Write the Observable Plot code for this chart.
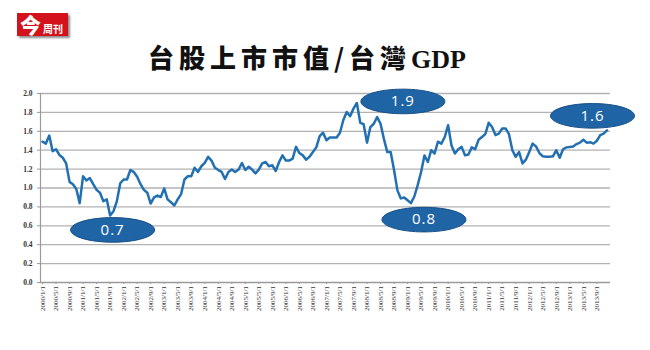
<!DOCTYPE html>
<html><head><meta charset="utf-8">
<script src="https://cdn.jsdelivr.net/npm/d3@7"></script>
<script src="https://cdn.jsdelivr.net/npm/@observablehq/plot@0.6"></script>
<style>
body{margin:0;background:#fff;}
#wrap{position:relative;width:650px;height:350px;overflow:hidden;}
#chart{position:absolute;left:0;top:0;}
#logo{position:absolute;left:17px;top:13px;width:51px;height:23px;background:#d3121c;box-shadow:2px 2px 2px rgba(0,0,0,0.45);color:#fff;font-family:"Noto Sans CJK TC",sans-serif;white-space:nowrap;}
#logo .big{position:absolute;left:3px;top:-4px;font-size:21px;font-weight:900;}
#logo .small{position:absolute;left:26px;top:8px;font-size:10px;font-weight:700;}
#title{position:absolute;left:148px;top:38px;white-space:nowrap;font-family:"Noto Sans CJK TC",sans-serif;font-weight:900;font-size:26px;color:#111;}
#title .cjk{letter-spacing:5px;}
#title .slash{display:inline-block;width:16px;margin-left:-3px;margin-right:2px;text-align:center;font-weight:700;}
#title .latin{font-family:"Liberation Serif",serif;font-weight:700;letter-spacing:0;}
svg g[aria-label="text"] text{letter-spacing:1px;}
</style></head>
<body>
<div id="wrap">
  <div id="chart"></div>
  <div id="logo"><span class="big">今</span><span class="small">周刊</span></div>
  <div id="title"><span class="cjk">台股上市市值</span><span class="slash">/</span><span class="cjk">台灣</span><span class="latin">GDP</span></div>
</div>
<script>
const years = [2000,2001,2002,2003,2004,2005,2006,2007,2008,2009,2010,2011,2012,2013];
const months = [];
for (const y of years) for (let m = 1; m <= 12; m++) months.push(`${y}/${m}/1`);
const tickLabels = months.filter((d, i) => i % 4 === 0);
const yTicks = [0,0.2,0.4,0.6,0.8,1.0,1.2,1.4,1.6,1.8,2.0];

const ratio = [
  1.49,1.47,1.555,1.39,1.41,1.35,1.32,1.26,1.065,1.04,
  0.99,0.84,1.125,1.08,1.105,1.04,0.98,0.95,0.86,0.88,
  0.71,0.755,0.86,1.05,1.09,1.09,1.19,1.17,1.12,1.04,
  0.98,0.95,0.835,0.90,0.92,0.905,0.995,0.88,0.85,0.815,
  0.88,0.935,1.09,1.125,1.125,1.215,1.17,1.23,1.265,1.33,
  1.29,1.215,1.19,1.17,1.095,1.17,1.195,1.17,1.195,1.265,
  1.19,1.225,1.195,1.155,1.195,1.26,1.275,1.23,1.24,1.18,
  1.275,1.345,1.29,1.29,1.31,1.435,1.37,1.345,1.30,1.33,
  1.38,1.43,1.55,1.585,1.505,1.535,1.535,1.535,1.585,1.72,
  1.805,1.76,1.84,1.90,1.69,1.675,1.48,1.645,1.68,1.75,
  1.68,1.52,1.38,1.38,1.19,0.975,0.89,0.90,0.87,0.84,
  0.91,1.03,1.17,1.345,1.275,1.40,1.365,1.49,1.47,1.54,
  1.665,1.45,1.365,1.41,1.435,1.345,1.355,1.43,1.41,1.51,
  1.54,1.57,1.69,1.645,1.56,1.575,1.63,1.63,1.57,1.40,
  1.33,1.38,1.26,1.30,1.38,1.47,1.44,1.37,1.335,1.33,
  1.33,1.335,1.40,1.32,1.41,1.43,1.435,1.44,1.465,1.48,
  1.51,1.48,1.485,1.47,1.50,1.56,1.575,1.61
];

const annotationLabels = ["0.7","1.9","0.8","1.6"];
const annotationMonths = ["2001/9/1","2007/10/1","2009/2/1","2013/12/1"];

const table = months.map((m, i) => ({month: m, value: ratio[i]}));

// pixel offsets of each callout from its data point (style, not data)
const offsets = [[2.5,14.5],[46,-1.5],[13,16.5],[-14.5,-14.5]];

const ellipse = {
  draw(ctx) {
    const rx = 42, ry = 12.3, k = 0.5523;
    ctx.moveTo(rx, 0);
    ctx.bezierCurveTo(rx, ry*k, rx*k, ry, 0, ry);
    ctx.bezierCurveTo(-rx*k, ry, -rx, ry*k, -rx, 0);
    ctx.bezierCurveTo(-rx, -ry*k, -rx*k, -ry, 0, -ry);
    ctx.bezierCurveTo(rx*k, -ry, rx, -ry*k, rx, 0);
    ctx.closePath();
  }
};

const annoMarks = annotationLabels.flatMap((label, j) => {
  const i = months.indexOf(annotationMonths[j]);
  const d = {month: months[i], value: ratio[i], label};
  const [dx, dy] = offsets[j];
  return [
    Plot.dot([d], {x: "month", y: "value", symbol: ellipse, r: 5, fill: "#1f64a4", stroke: "#184f86", strokeWidth: 1, dx, dy}),
    Plot.text([d], {x: "month", y: "value", text: "label", dx, dy, fill: "white", fontSize: 15, fontFamily: "'Open Sans', sans-serif"})
  ];
});

const chart = Plot.plot({
  width: 650,
  height: 350,
  marginTop: 93,
  marginBottom: 68,
  marginLeft: 40,
  marginRight: 40,
  style: {background: "transparent", fontFamily: "'Liberation Serif', serif", color: "#333"},
  x: {type: "point", domain: months, padding: 0, insetLeft: 2, insetRight: 3.5},
  y: {domain: [0, 2], ticks: yTicks},
  marks: [
    Plot.ruleY(yTicks.slice(1), {stroke: "#b2b2b2", strokeWidth: 1.3}),
    Plot.ruleY([0], {stroke: "#9a9a9a", strokeWidth: 1.3}),
    Plot.ruleX([months[0]], {dx: -2, y1: 0, y2: 2, stroke: "#9a9a9a", strokeWidth: 1.2}),
    Plot.axisY({ticks: yTicks, tickSize: 3, tickPadding: 5, tickFormat: d => d.toFixed(1), fontSize: 7.5, label: null, stroke: "#9a9a9a", fontWeight: "bold"}),
    Plot.axisX({ticks: tickLabels, tickRotate: -90, tickSize: 2, tickPadding: 1.5, fontSize: 7, label: null, stroke: "#9a9a9a"}),
    Plot.lineY(table, {x: "month", y: "value", stroke: "#2270b2", strokeWidth: 2.5}),
    ...annoMarks
  ]
});
document.getElementById("chart").append(chart);
</script>
</body></html>
